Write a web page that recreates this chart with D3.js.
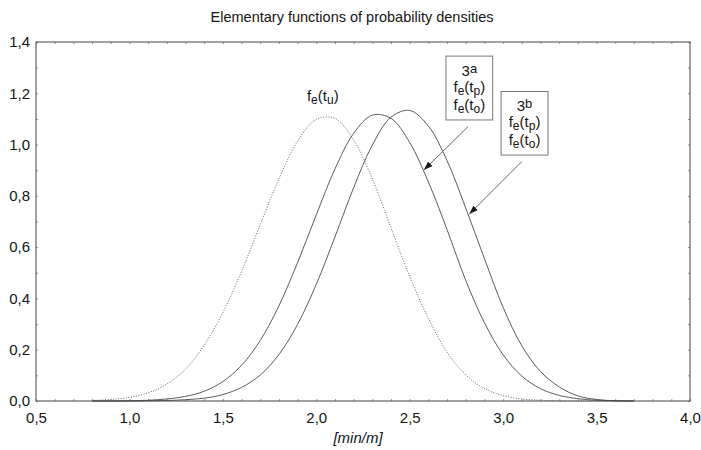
<!DOCTYPE html>
<html><head><meta charset="utf-8">
<script src="https://cdn.jsdelivr.net/npm/d3@7"></script>
<style>
body{margin:0;background:#fff}
svg{display:block}
text{font-family:"Liberation Sans",Arial,sans-serif;fill:#141414}
</style>
</head><body>
<svg id="chart" width="701" height="450"></svg>
<script>
// ---- data ----
const xGrid = [0.8,0.9,1.0,1.1,1.2,1.3,1.4,1.5,1.6,1.7,1.8,1.9,2.0,2.1,2.2,2.3,2.4,2.5,2.6,2.7,2.8,2.9,3.0,3.1,3.2,3.3,3.4,3.5,3.6,3.7];
const feTu  = [0.002,0.006,0.014,0.032,0.066,0.124,0.218,0.345,0.505,0.688,0.866,1.013,1.098,1.102,1.018,0.866,0.675,0.485,0.322,0.190,0.102,0.049,0.021,0.008,0.003,0.001,0,0,0,0];
const fe3a  = [0,0,0.001,0.003,0.008,0.018,0.038,0.076,0.139,0.236,0.371,0.540,0.726,0.905,1.044,1.115,1.102,1.008,0.854,0.668,0.470,0.305,0.180,0.097,0.048,0.022,0.009,0.003,0.001,0];
const fe3b  = [0,0,0,0.001,0.002,0.005,0.011,0.025,0.053,0.101,0.181,0.299,0.455,0.640,0.832,0.998,1.107,1.133,1.072,0.937,0.752,0.555,0.365,0.215,0.115,0.055,0.020,0.006,0.001,0];
const xTickValues = [0.5,1.0,1.5,2.0,2.5,3.0,3.5,4.0];
const yTickValues = [0,0.2,0.4,0.6,0.8,1.0,1.2,1.4];
const titleText = "Elementary functions of probability densities";
const xAxisTitle = "[min/m]";

// ---- layout ----
const W = 701, H = 450;
const m = {left:36, right:11, top:42, bottom:49};
const svg = d3.select("#chart");
const x = d3.scaleLinear().domain([0.5,4.0]).range([m.left, W - m.right]);
const y = d3.scaleLinear().domain([0,1.4]).range([H - m.bottom, m.top]);
const fmt = d => d3.format(".1f")(d).replace(".", ",");
const fontSize = 15;

// title
svg.append("text").attr("x", 352).attr("y", 22).attr("text-anchor","middle")
  .style("font-size","14.5px").text(titleText);

// minor ticks (inward, all four sides)
const minorX = d3.range(5, 41).map(v => v/10);
const minorY = d3.range(0, 15).map(v => v/10);
function styleTicks(g){ g.select(".domain").remove(); g.selectAll("line").attr("stroke","#999"); g.selectAll("text").remove(); }
svg.append("g").attr("transform",`translate(0,${y(0)})`).call(d3.axisBottom(x).tickValues(minorX).tickSize(-2).tickFormat("")).call(styleTicks);
svg.append("g").attr("transform",`translate(0,${y(1.4)})`).call(d3.axisTop(x).tickValues(minorX).tickSize(-2).tickFormat("")).call(styleTicks);
svg.append("g").attr("transform",`translate(${x(0.5)},0)`).call(d3.axisLeft(y).tickValues(minorY).tickSize(-2).tickFormat("")).call(styleTicks);
svg.append("g").attr("transform",`translate(${x(4.0)},0)`).call(d3.axisRight(y).tickValues(minorY).tickSize(-2).tickFormat("")).call(styleTicks);

// frame
svg.append("rect").attr("x", x(0.5)).attr("y", y(1.4))
  .attr("width", x(4.0) - x(0.5)).attr("height", y(0) - y(1.4))
  .attr("fill","none").attr("stroke","#444").attr("stroke-width",1);

// axis labels
const gx = svg.append("g").attr("transform",`translate(0,${y(0)})`)
  .call(d3.axisBottom(x).tickValues(xTickValues).tickSize(0).tickPadding(11).tickFormat(fmt));
gx.select(".domain").remove();
gx.selectAll("text").style("font-size",fontSize+"px").attr("fill","#141414");
gx.attr("font-family",null).attr("font-size",null);

const gy = svg.append("g").attr("transform",`translate(${x(0.5)},0)`)
  .call(d3.axisLeft(y).tickValues(yTickValues).tickSize(0).tickPadding(6).tickFormat(fmt));
gy.select(".domain").remove();
gy.selectAll("text").style("font-size",fontSize+"px").attr("fill","#141414");
gy.attr("font-family",null).attr("font-size",null);

svg.append("text").attr("x", 358).attr("y", 443).attr("text-anchor","middle")
  .style("font-size","15px").style("font-style","italic").text(xAxisTitle);

// curves
const line = d3.line().x((d,i) => x(xGrid[i])).y(d => y(d)).curve(d3.curveCatmullRom);
svg.append("path").datum(feTu).attr("d", line).attr("fill","none")
  .attr("stroke","#666").attr("stroke-width",1).attr("stroke-dasharray","1,1.6");
svg.append("path").datum(fe3a).attr("d", line).attr("fill","none")
  .attr("stroke","#4a4a4a").attr("stroke-width",0.9);
svg.append("path").datum(fe3b).attr("d", line).attr("fill","none")
  .attr("stroke","#4a4a4a").attr("stroke-width",0.9);

// annotations (positions in data units)
function fLabel(sel, sub1, sub2, xc, yb, anchor){
  const t = sel.append("text").attr("x", xc).attr("y", yb).attr("text-anchor", anchor || "middle")
    .style("font-size", "15px");
  t.append("tspan").text("f");
  t.append("tspan").style("font-size","12px").attr("dy", 3).text(sub1);
  t.append("tspan").attr("dy", -3).text("(t");
  t.append("tspan").style("font-size","12px").attr("dy", 3).text(sub2);
  t.append("tspan").attr("dy", -3).text(")");
}
fLabel(svg, "e", "u", x(1.95), y(1.17), "start");

const defs = svg.append("defs");
defs.append("marker").attr("id","ah").attr("viewBox","0 0 10 10").attr("refX",10).attr("refY",5)
  .attr("markerWidth",9).attr("markerHeight",9).attr("markerUnits","userSpaceOnUse").attr("orient","auto")
  .append("path").attr("d","M0,1.5 L10,5 L0,8.5 Z").attr("fill","#1a1a1a");

const boxes = [
  {label:"3", sup:"a", x0:2.694, x1:2.944, y0:1.345, y1:1.096, from:[2.812,1.070], to:[2.576,0.901]},
  {label:"3", sup:"b", x0:2.989, x1:3.240, y0:1.207, y1:0.959, from:[3.099,0.933], to:[2.819,0.729]}
];
boxes.forEach(b => {
  const bx = x(b.x0), by = y(b.y0), bw = x(b.x1) - x(b.x0), bh = y(b.y1) - y(b.y0);
  svg.append("rect").attr("x", bx).attr("y", by).attr("width", bw).attr("height", bh)
    .attr("fill","#fff").attr("stroke","#777").attr("stroke-width",1);
  const cx = bx + bw/2;
  const t = svg.append("text").attr("x", cx).attr("y", by + 20).attr("text-anchor","middle").style("font-size","15px");
  t.append("tspan").text(b.label);
  t.append("tspan").style("font-size","13px").attr("dy",-3).text(b.sup);
  fLabel(svg, "e", "p", cx, by + 36);
  fLabel(svg, "e", "o", cx, by + 54);
  svg.append("line").attr("x1", x(b.from[0])).attr("y1", y(b.from[1]))
    .attr("x2", x(b.to[0])).attr("y2", y(b.to[1]))
    .attr("stroke","#666").attr("stroke-width",1).attr("marker-end","url(#ah)");
});
</script>
</body></html>
